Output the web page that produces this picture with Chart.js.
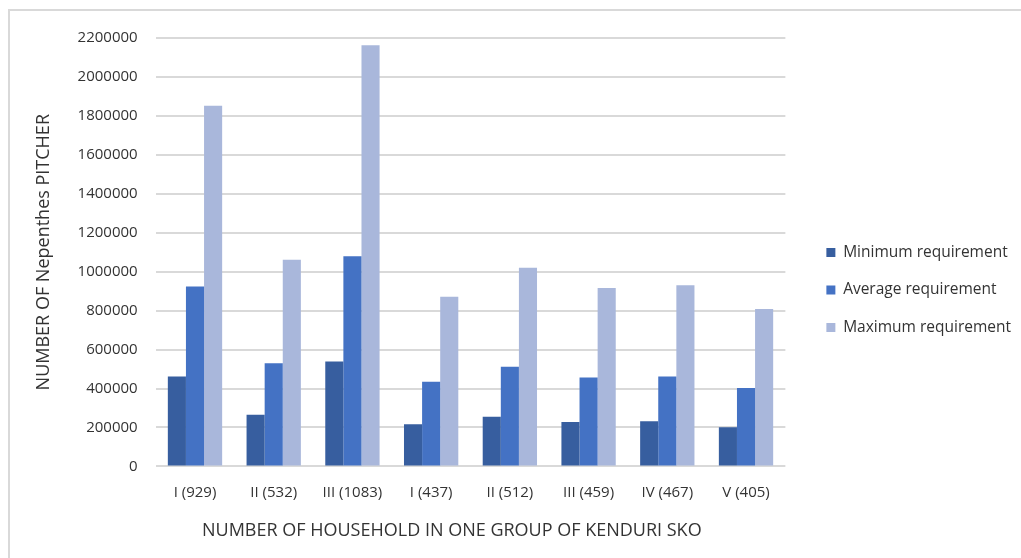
<!DOCTYPE html>
<html>
<head>
<meta charset="utf-8">
<script src="https://cdn.jsdelivr.net/npm/chart.js@4/dist/chart.umd.min.js"></script>
<style>
  html, body { margin: 0; padding: 0; background: #ffffff; overflow: hidden; }
  body { width: 1021px; height: 558px; position: relative; }
  #frame { position: absolute; left: 8px; top: 9px; width: 1040px; height: 580px;
           border: 2px solid #d9d9d9; box-sizing: border-box; }
  #wrap { position: absolute; left: 10px; top: 11px; width: 1030px; height: 547px; }
</style>
</head>
<body>
<div id="frame"></div>
<div id="wrap"><canvas id="chart"></canvas></div>
<script>
// Groups of Kenduri SKO with their household counts
const categories = ["I (929)", "II (532)", "III (1083)", "I (437)", "II (512)", "III (459)", "IV (467)", "V (405)"];

// Nepenthes pitchers needed per group
const minimumRequirement = [462000, 265000, 539000, 217000, 255000, 228000, 232000, 201000];
const averageRequirement = [924000, 530000, 1079000, 435000, 512000, 457000, 462000, 403000];
const maximumRequirement = [1852000, 1061000, 2163000, 871000, 1020000, 916000, 930000, 808000];

const seriesNames = ["Minimum requirement", "Average requirement", "Maximum requirement"];
const seriesColors = ["#375E9F", "#4472C4", "#A9B7DB"];

const yTickMax = 2200000;
const yTickStep = 200000;

const textColor = "#333333";
const fontFamily = "'Open Sans', 'Liberation Sans', sans-serif";

// trailing no-break spaces nudge the centred axis title a little to the left
const xTitle = "NUMBER OF HOUSEHOLD IN ONE GROUP OF KENDURI SKO" + "\u00A0".repeat(8);

new Chart(document.getElementById("chart"), {
  type: "bar",
  data: {
    labels: categories,
    datasets: [minimumRequirement, averageRequirement, maximumRequirement].map((values, i) => ({
      label: seriesNames[i],
      data: values,
      backgroundColor: seriesColors[i],
      borderWidth: 0,
      categoryPercentage: 0.69,
      barPercentage: 1.0
    }))
  },
  options: {
    responsive: true,
    maintainAspectRatio: false,
    animation: false,
    layout: { padding: { top: 27, left: 23, right: 19, bottom: 16 } },
    plugins: {
      legend: {
        position: "right",
        align: "center",
        labels: {
          boxWidth: 9,
          boxHeight: 9,
          padding: 22,
          color: textColor,
          font: { family: fontFamily, size: 15.5 }
        }
      },
      tooltip: { enabled: false }
    },
    scales: {
      x: {
        grid: { display: false, drawTicks: false },
        border: { display: false },
        ticks: {
          color: textColor,
          font: { family: fontFamily, size: 15 },
          padding: 17,
          maxRotation: 0,
          autoSkip: false
        },
        title: {
          display: true,
          text: xTitle,
          color: textColor,
          font: { family: fontFamily, size: 18 },
          padding: { top: 2, bottom: 0 }
        }
      },
      y: {
        min: 0,
        max: yTickMax,
        grid: { color: "#d9d9d9", lineWidth: 2, drawTicks: false },
        border: { display: false },
        ticks: {
          stepSize: yTickStep,
          color: textColor,
          font: { family: fontFamily, size: 15 },
          padding: 18,
          callback: v => String(v)
        },
        title: {
          display: true,
          text: "NUMBER OF Nepenthes PITCHER",
          color: textColor,
          font: { family: fontFamily, size: 18 },
          padding: { top: 0, bottom: 5 }
        }
      },
      // spacer between the plot and the legend
      gap: {
        position: "right",
        display: false,
        grid: { display: false, drawTicks: false },
        ticks: { display: false },
        afterFit: scale => { scale.width = 19; }
      }
    }
  }
});
</script>
</body>
</html>
